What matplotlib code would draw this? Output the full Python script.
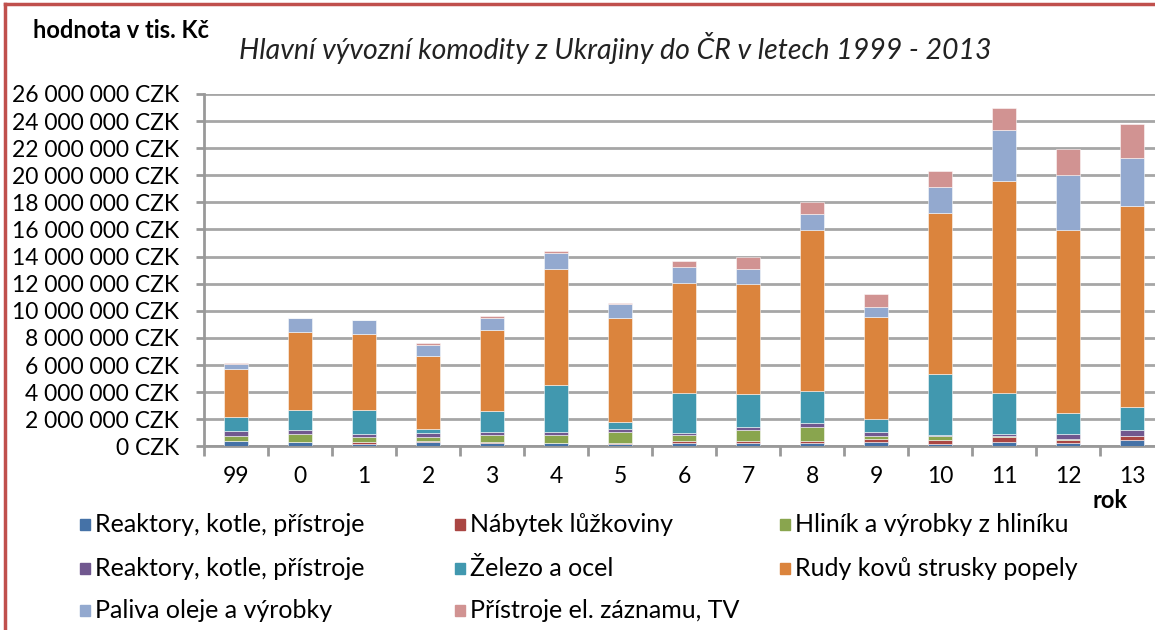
import numpy as np
import matplotlib
matplotlib.use("Agg")
import matplotlib.pyplot as plt
from matplotlib.patches import Rectangle
from matplotlib.lines import Line2D

plt.rcParams['font.family'] = ['Lato', 'DejaVu Sans']

# years (labels as shown on the axis)
years = ['99', '0', '1', '2', '3', '4', '5', '6', '7', '8', '9', '10', '11', '12', '13']

series_names = [
    'Reaktory, kotle, přístroje',
    'Nábytek lůžkoviny',
    'Hliník a výrobky z hliníku',
    'Reaktory, kotle, přístroje',
    'Železo a ocel',
    'Rudy kovů strusky popely',
    'Paliva oleje a výrobky',
    'Přístroje el. záznamu, TV',
]
series_colors = ['#4572A7', '#AA4643', '#89A54E', '#71588F',
                 '#4198AF', '#DB843D', '#93A9CF', '#D19392']

# values in millions CZK
reaktory1 = [0.38, 0.30, 0.20, 0.35, 0.25, 0.22, 0.20, 0.25, 0.25, 0.28, 0.35, 0.20, 0.30, 0.28, 0.50]
nabytek   = [0.03, 0.05, 0.10, 0.02, 0.05, 0.05, 0.05, 0.12, 0.12, 0.10, 0.20, 0.25, 0.35, 0.22, 0.24]
hlinik    = [0.37, 0.55, 0.40, 0.34, 0.57, 0.56, 0.84, 0.44, 0.80, 1.06, 0.20, 0.30, 0.10, 0.06, 0.02]
reaktory2 = [0.37, 0.30, 0.20, 0.27, 0.22, 0.20, 0.20, 0.19, 0.22, 0.25, 0.27, 0.12, 0.17, 0.33, 0.44]
zelezo    = [1.00, 1.50, 1.78, 0.27, 1.50, 3.49, 0.54, 2.91, 2.48, 2.40, 0.96, 4.47, 3.04, 1.60, 1.72]
rudy      = [3.56, 5.74, 5.62, 5.43, 6.00, 8.56, 7.66, 8.13, 8.09, 11.90, 7.55, 11.86, 15.64, 13.50, 14.82]
paliva    = [0.40, 1.00, 1.00, 0.80, 0.88, 1.15, 1.00, 1.18, 1.10, 1.13, 0.73, 1.90, 3.76, 4.06, 3.50]
pristroje = [0.05, 0.05, 0.04, 0.13, 0.12, 0.17, 0.10, 0.44, 0.90, 0.88, 0.96, 1.20, 1.60, 1.90, 2.53]

data = [reaktory1, nabytek, hlinik, reaktory2, zelezo, rudy, paliva, pristroje]

fig = plt.figure(figsize=(11.55, 6.3), dpi=100)
fig.patch.set_facecolor('white')
ax = fig.add_axes([204 / 1155, 1 - 446.3 / 630, 960 / 1155, 352.3 / 630])

x = np.arange(len(years))
bottom = np.zeros(len(years))
for vals, color in zip(data, series_colors):
    v = np.array(vals) * 1e6
    ax.bar(x, v, width=0.39, bottom=bottom, color=color,
           edgecolor=(1, 1, 1, 0.6), linewidth=0.6, zorder=3)
    bottom += v

ax.set_xlim(-0.5, len(years) - 0.5)
ax.set_ylim(0, 26e6)
yt = np.arange(0, 26e6 + 1, 2e6)
ax.set_yticks(yt)
ax.set_yticklabels([f"{int(v):,}".replace(",", " ") + " CZK" for v in yt], fontsize=16.5)
ax.yaxis.grid(True, color='#a6a6a6', linewidth=2, zorder=0)
ax.set_xticks(x)
ax.set_xticklabels(years, fontsize=16.5)
ax.set_xticks(np.arange(-0.5, len(years), 1), minor=True)
ax.tick_params(axis='x', which='major', length=0, pad=14)
ax.tick_params(axis='x', which='minor', length=7, width=2, color='#999999')
ax.tick_params(axis='y', length=6, width=2, color='#999999', pad=12)
for s in ['top', 'right']:
    ax.spines[s].set_visible(False)
ax.spines['left'].set_color('#999999')
ax.spines['left'].set_linewidth(2)
ax.spines['bottom'].set_color('#999999')
ax.spines['bottom'].set_linewidth(2)

# titles
fig.text(33 / 1155, 1 - 30 / 630, 'hodnota v tis. Kč', fontsize=17, fontweight='bold',
         ha='left', va='center')
fig.text(615 / 1155, 1 - 48 / 630, 'Hlavní vývozní komodity z Ukrajiny do ČR v letech 1999 - 2013',
         fontsize=20.5, style='italic', ha='center', va='center', color='#222222')
fig.text(1110 / 1155, 1 - 500 / 630, 'rok', fontsize=17, fontweight='bold',
         ha='center', va='center')

# legend, laid out row by row
col_x = [80, 455, 780]
row_y = [525, 569, 611]
for i, (name, color) in enumerate(zip(series_names, series_colors)):
    cx = col_x[i % 3]
    cy = row_y[i // 3]
    fig.patches.append(Rectangle((cx / 1155, 1 - (cy + 5) / 630), 10 / 1155, 11 / 630,
                                 transform=fig.transFigure, color=color, figure=fig))
    fig.text((cx + 15) / 1155, 1 - cy / 630, name, fontsize=18, ha='left', va='center')

# red frame
fig.add_artist(Line2D([5 / 1155, 5 / 1155], [0, 1 - 4 / 630], color='#C0504D', linewidth=2.5,
                      transform=fig.transFigure))
fig.add_artist(Line2D([5 / 1155, 1], [1 - 4 / 630, 1 - 4 / 630], color='#C0504D', linewidth=2.5,
                      transform=fig.transFigure))

fig.savefig('out.png', dpi=100)
